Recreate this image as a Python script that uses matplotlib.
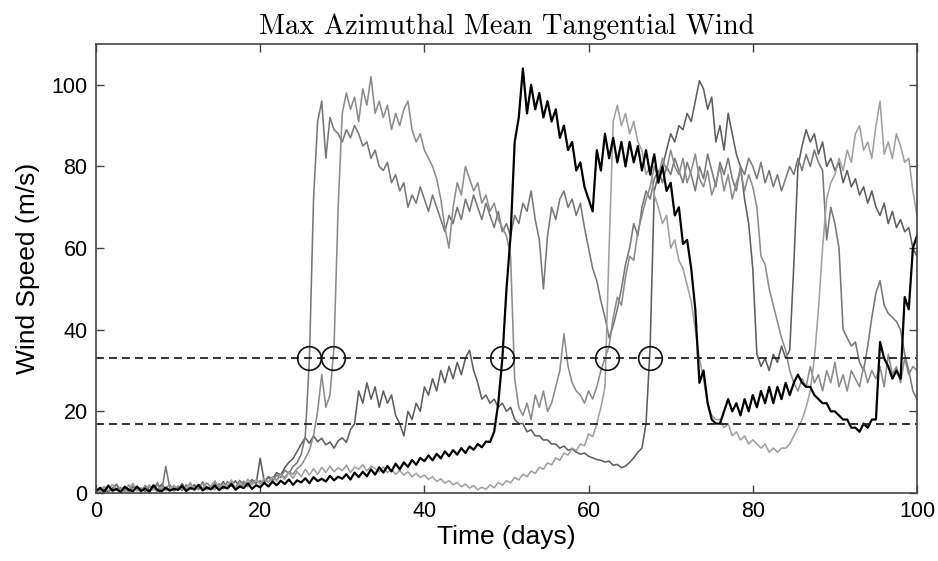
import numpy as np
import matplotlib
matplotlib.use('Agg')
import matplotlib.pyplot as plt

# time axis: every half day, 0..100
days = np.arange(201) * 0.5

# black storm (genesis ~49.4 d)
wind_black = [
    0.5, 1.2, 0.3, 1.8, 0.6, 1.0, 0.2, 1.5, 0.8, 0.4, 1.6, 0.5, 1.1, 0.3, 1.9, 0.7, 0.4, 1.3, 0.6, 1.0,
    0.8, 1.7, 0.5, 1.2, 0.9, 2.0, 0.6, 1.4, 0.9, 1.8, 0.7, 1.5, 1.1, 2.2, 0.8, 1.6, 1.2, 2.4, 1.0, 1.9,
    1.4, 2.5, 1.6, 2.8, 1.9, 3.0, 2.2, 3.3, 2.0, 3.1, 2.6, 3.6, 2.4, 3.9, 2.9, 3.5, 2.8, 4.2, 3.1, 4.0,
    3.5, 4.6, 3.3, 5.0, 3.9, 5.2, 4.1, 5.8, 4.5, 6.3, 5.0, 6.6, 5.3, 7.2, 5.8, 7.5, 6.4, 8.1, 6.9, 8.6,
    7.8, 9.2, 8.0, 9.6, 8.5, 10.2, 9.0, 10.5, 9.4, 11.0, 9.8, 11.4, 10.6, 12.0, 11.2, 12.6, 12.5, 15.0, 22.0, 33.0,
    50, 63, 86, 92, 104, 93, 100, 94, 98, 92, 96, 91, 94, 87, 90, 84, 86, 79, 81, 75,
    72, 69, 84, 79, 88, 82, 87, 81, 86, 80, 86, 81, 85, 79, 84, 78, 83, 76, 80, 74,
    76, 68, 70, 61, 62, 55, 45, 27, 30, 22, 18, 17, 17, 20, 23, 20, 22, 19, 23, 20,
    24, 21, 25, 22, 26, 22, 26, 23, 27, 24, 27, 29, 27, 26, 26, 24, 23, 22, 22, 20,
    20, 19, 18, 18, 16, 16, 15, 17, 16, 18, 18, 37, 33, 31, 28, 30, 28, 48, 45, 60,
    63,
]

# first gray storm (genesis ~25.9 d)
wind_g1 = [
    0.8, 0.3, 1.5, 0.5, 1.0, 2.2, 0.6, 1.3, 0.4, 1.8, 0.7, 1.2, 0.3, 1.6, 1.0, 2.5, 0.5, 6.5, 1.1, 0.6,
    1.4, 0.6, 2.0, 1.0, 1.6, 0.8, 2.4, 1.3, 0.9, 2.6, 1.5, 1.0, 2.8, 1.7, 1.2, 3.1, 2.0, 1.6, 3.3, 2.4,
    3.0, 2.4, 3.8, 3.0, 4.4, 3.8, 5.6, 4.8, 6.5, 7.4, 9.5, 14, 33, 72, 91, 96, 82, 92, 89, 88,
    86, 89, 87, 90, 88, 85, 86, 82, 84, 80, 79, 81, 76, 78, 74, 76, 70, 73, 71, 75,
    72, 69, 73, 70, 67, 64, 68, 66, 70, 67, 72, 69, 73, 70, 67, 71, 68, 65, 69, 64,
    66, 63, 68, 66, 71, 69, 74, 67, 62, 50, 63, 70, 67, 72, 74, 70, 72, 68, 71, 65,
    60, 55, 52, 47, 43, 38, 41, 45, 50, 56, 60, 66, 63, 70, 74, 72, 77, 79, 76, 80,
    78, 82, 79, 76, 81, 78, 74, 80, 77, 83, 79, 75, 81, 78, 82, 77, 74, 80, 78, 82,
    80, 77, 81, 76, 79, 75, 78, 74, 77, 80, 78, 82, 79, 83, 80, 84, 81, 79, 62, 70,
    66, 60, 40, 38, 36, 37, 32, 30, 36, 43, 49, 52, 46, 44, 43, 42, 40, 34, 30, 25,
    23,
]

# second gray storm (genesis ~28.9 d)
wind_g2 = [
    0.3, 1.1, 0.6, 1.9, 0.4, 0.9, 1.4, 0.3, 2.0, 0.7, 1.2, 0.5, 1.7, 0.4, 1.0, 1.9, 0.6, 1.2, 2.1, 0.5,
    1.8, 0.9, 1.3, 2.2, 0.6, 1.9, 1.1, 2.5, 1.4, 0.8, 2.3, 1.2, 1.8, 2.7, 1.3, 2.2, 2.9, 1.6, 2.6, 3.2,
    2.4, 3.4, 2.7, 3.9, 3.2, 4.6, 3.8, 5.2, 4.6, 6.0, 6.8, 8.5, 10.5, 14, 20, 29, 21, 24, 36, 70,
    93, 98, 94, 97, 91, 99, 95, 102, 93, 96, 92, 95, 89, 93, 90, 94, 96, 89, 86, 88,
    84, 82, 80, 77, 72, 65, 60, 70, 76, 73, 80, 77, 74, 76, 71, 73, 69, 71, 67, 65,
    63, 58, 28, 21, 19, 22, 18, 24, 21, 25, 20, 22, 26, 30, 39, 31, 27, 25, 24, 22,
    25, 23, 26, 30, 33, 36, 43, 48, 46, 53, 58, 57, 64, 68, 72, 75, 80, 77, 82, 79,
    84, 80, 78, 82, 76, 79, 83, 77, 75, 79, 73, 76, 80, 74, 78, 72, 76, 79, 74, 78,
    75, 70, 58, 56, 50, 46, 42, 38, 35, 30, 27, 25, 28, 26, 31, 27, 29, 25, 30, 27,
    32, 26, 29, 25, 30, 28, 26, 31, 27, 30, 28, 31, 26, 34, 29, 31, 27, 33, 29, 31,
    30,
]

# third gray storm (genesis ~62.3 d)
wind_g3 = [
    1.0, 0.3, 1.6, 0.6, 2.1, 0.8, 0.4, 1.7, 0.9, 2.4, 0.5, 1.3, 0.7, 2.0, 0.9, 0.4, 1.5, 0.6, 0.8, 1.9,
    0.6, 1.8, 1.0, 2.6, 0.7, 1.5, 2.3, 0.9, 1.7, 3.0, 1.2, 2.1, 1.6, 3.2, 1.0, 2.4, 1.8, 3.4, 2.0, 3.1,
    2.2, 3.5, 2.6, 3.9, 2.9, 4.4, 3.3, 5.0, 3.6, 5.3, 4.0, 5.8, 4.4, 6.0, 4.6, 6.3, 5.0, 6.6, 5.2, 6.2,
    5.5, 6.8, 5.0, 6.4, 5.8, 7.0, 5.4, 6.5, 6.0, 5.2, 6.4, 5.0, 5.8, 4.6, 5.5, 4.4, 5.2, 4.0, 4.8, 3.8,
    4.4, 3.3, 4.0, 2.8, 3.5, 2.4, 3.0, 2.0, 2.6, 1.5, 2.2, 1.2, 1.8, 0.8, 1.4, 0.9, 2.0, 1.3, 2.6, 1.9,
    3.0, 2.5, 3.8, 3.2, 4.6, 4.0, 5.4, 4.8, 6.3, 5.8, 7.4, 6.9, 8.6, 8.0, 9.8, 9.3, 11.0, 10.4, 12.0, 11.6,
    14.5, 13.8, 17, 21, 26, 60, 91, 95, 90, 93, 88, 91, 86, 84, 78, 80, 73, 70, 66, 68,
    60, 62, 57, 55, 51, 47, 40, 33, 28, 22, 19, 18, 18, 16, 17, 14, 15, 13, 14, 12,
    13, 12, 11, 12, 10, 11, 10, 11, 11, 12, 14, 16, 18, 21, 25, 33, 45, 60, 72, 76,
    78, 82, 79, 84, 81, 88, 90, 84, 86, 82, 90, 96, 83, 86, 82, 88, 85, 81, 82, 74,
    68,
]

# fourth gray storm (genesis ~67.5 d)
wind_g4 = [
    0.4, 1.4, 0.8, 0.3, 1.2, 2.0, 0.6, 1.1, 0.3, 1.5, 0.9, 0.4, 1.8, 0.7, 1.3, 0.5, 2.2, 0.9, 0.5, 1.6,
    1.0, 2.3, 0.7, 1.4, 2.0, 1.1, 2.7, 0.8, 1.6, 2.4, 1.3, 2.8, 1.1, 1.9, 3.0, 1.4, 2.5, 1.7, 3.3, 2.2,
    8.5, 2.8, 4.0, 3.4, 5.0, 4.4, 6.2, 7.5, 8.4, 10.2, 12.0, 13.5, 12.2, 14.0, 12.6, 13.4, 11.8, 12.5, 11.0, 12.8,
    13.5, 12.4, 15.5, 17, 25, 22, 27, 23, 26, 21, 25, 22, 24, 19, 17, 14, 20, 18, 22, 20,
    26, 24, 28, 25, 30, 27, 31, 28, 32, 29, 33, 35, 30, 27, 23, 24, 22, 23, 21, 22,
    20, 21, 18, 17, 17, 15, 15.5, 14, 14, 13, 13, 12, 12, 11, 11.5, 10.5, 10.8, 10, 9.5, 9.8,
    9.0, 8.6, 8.2, 8.0, 7.6, 7.8, 6.8, 7.0, 6.2, 6.6, 7.5, 8.6, 10, 11, 17, 36, 74, 78, 80, 84,
    88, 86, 90, 89, 93, 91, 96, 101, 99, 94, 97, 86, 90, 84, 93, 88, 83, 80, 72, 66,
    55, 34, 31, 33, 30, 34, 32, 36, 33, 35, 56, 80, 85, 89, 86, 88, 83, 86, 80, 82,
    79, 81, 76, 79, 75, 77, 73, 75, 71, 74, 70, 68, 71, 66, 69, 65, 67, 64, 65, 60,
    58,
]

genesis_days = [25.9, 28.9, 49.4, 62.3, 67.5]
genesis_speed = 33
storm_speed = 17

plt.rcParams['font.family'] = ['Liberation Sans', 'DejaVu Sans']

fig = plt.figure(figsize=(9.38, 5.61), dpi=100)
ax = fig.add_axes([0.1023, 0.1212, 0.8753, 0.8004])

ax.plot(days, wind_g4, color='#5e5e5e', lw=1.15)
ax.plot(days, wind_g1, color='#787878', lw=1.15)
ax.plot(days, wind_g2, color='#8c8c8c', lw=1.15)
ax.plot(days, wind_g3, color='#a0a0a0', lw=1.15)
ax.plot(days, wind_black, color='black', lw=1.6)

ax.axhline(genesis_speed, color='#222222', lw=1.3, ls=(0, (4.4, 2.8)))
ax.axhline(storm_speed, color='#222222', lw=1.3, ls=(0, (4.4, 2.8)))
ax.plot(genesis_days, [genesis_speed] * len(genesis_days), 'o', ms=17,
        mfc='none', mec='#111111', mew=1.2)

ax.set_xlim(0, 100)
ax.set_ylim(0, 110)
ax.set_xticks([0, 20, 40, 60, 80, 100])
ax.set_yticks([0, 20, 40, 60, 80, 100])
ax.tick_params(direction='in', length=6, width=1.0, top=True, right=True,
               labelsize=15.5, color='#444444', pad=6)
for s in ax.spines.values():
    s.set_color('#444444')
    s.set_linewidth(1.2)

ax.set_xlabel('Time (days)', fontsize=19, labelpad=2)
ax.set_ylabel('Wind Speed (m/s)', fontsize=19, labelpad=8)
ax.set_title('Max Azimuthal Mean Tangential Wind', fontfamily='cmr10',
             fontsize=20.5, pad=7)

fig.savefig('out.png', dpi=100)
